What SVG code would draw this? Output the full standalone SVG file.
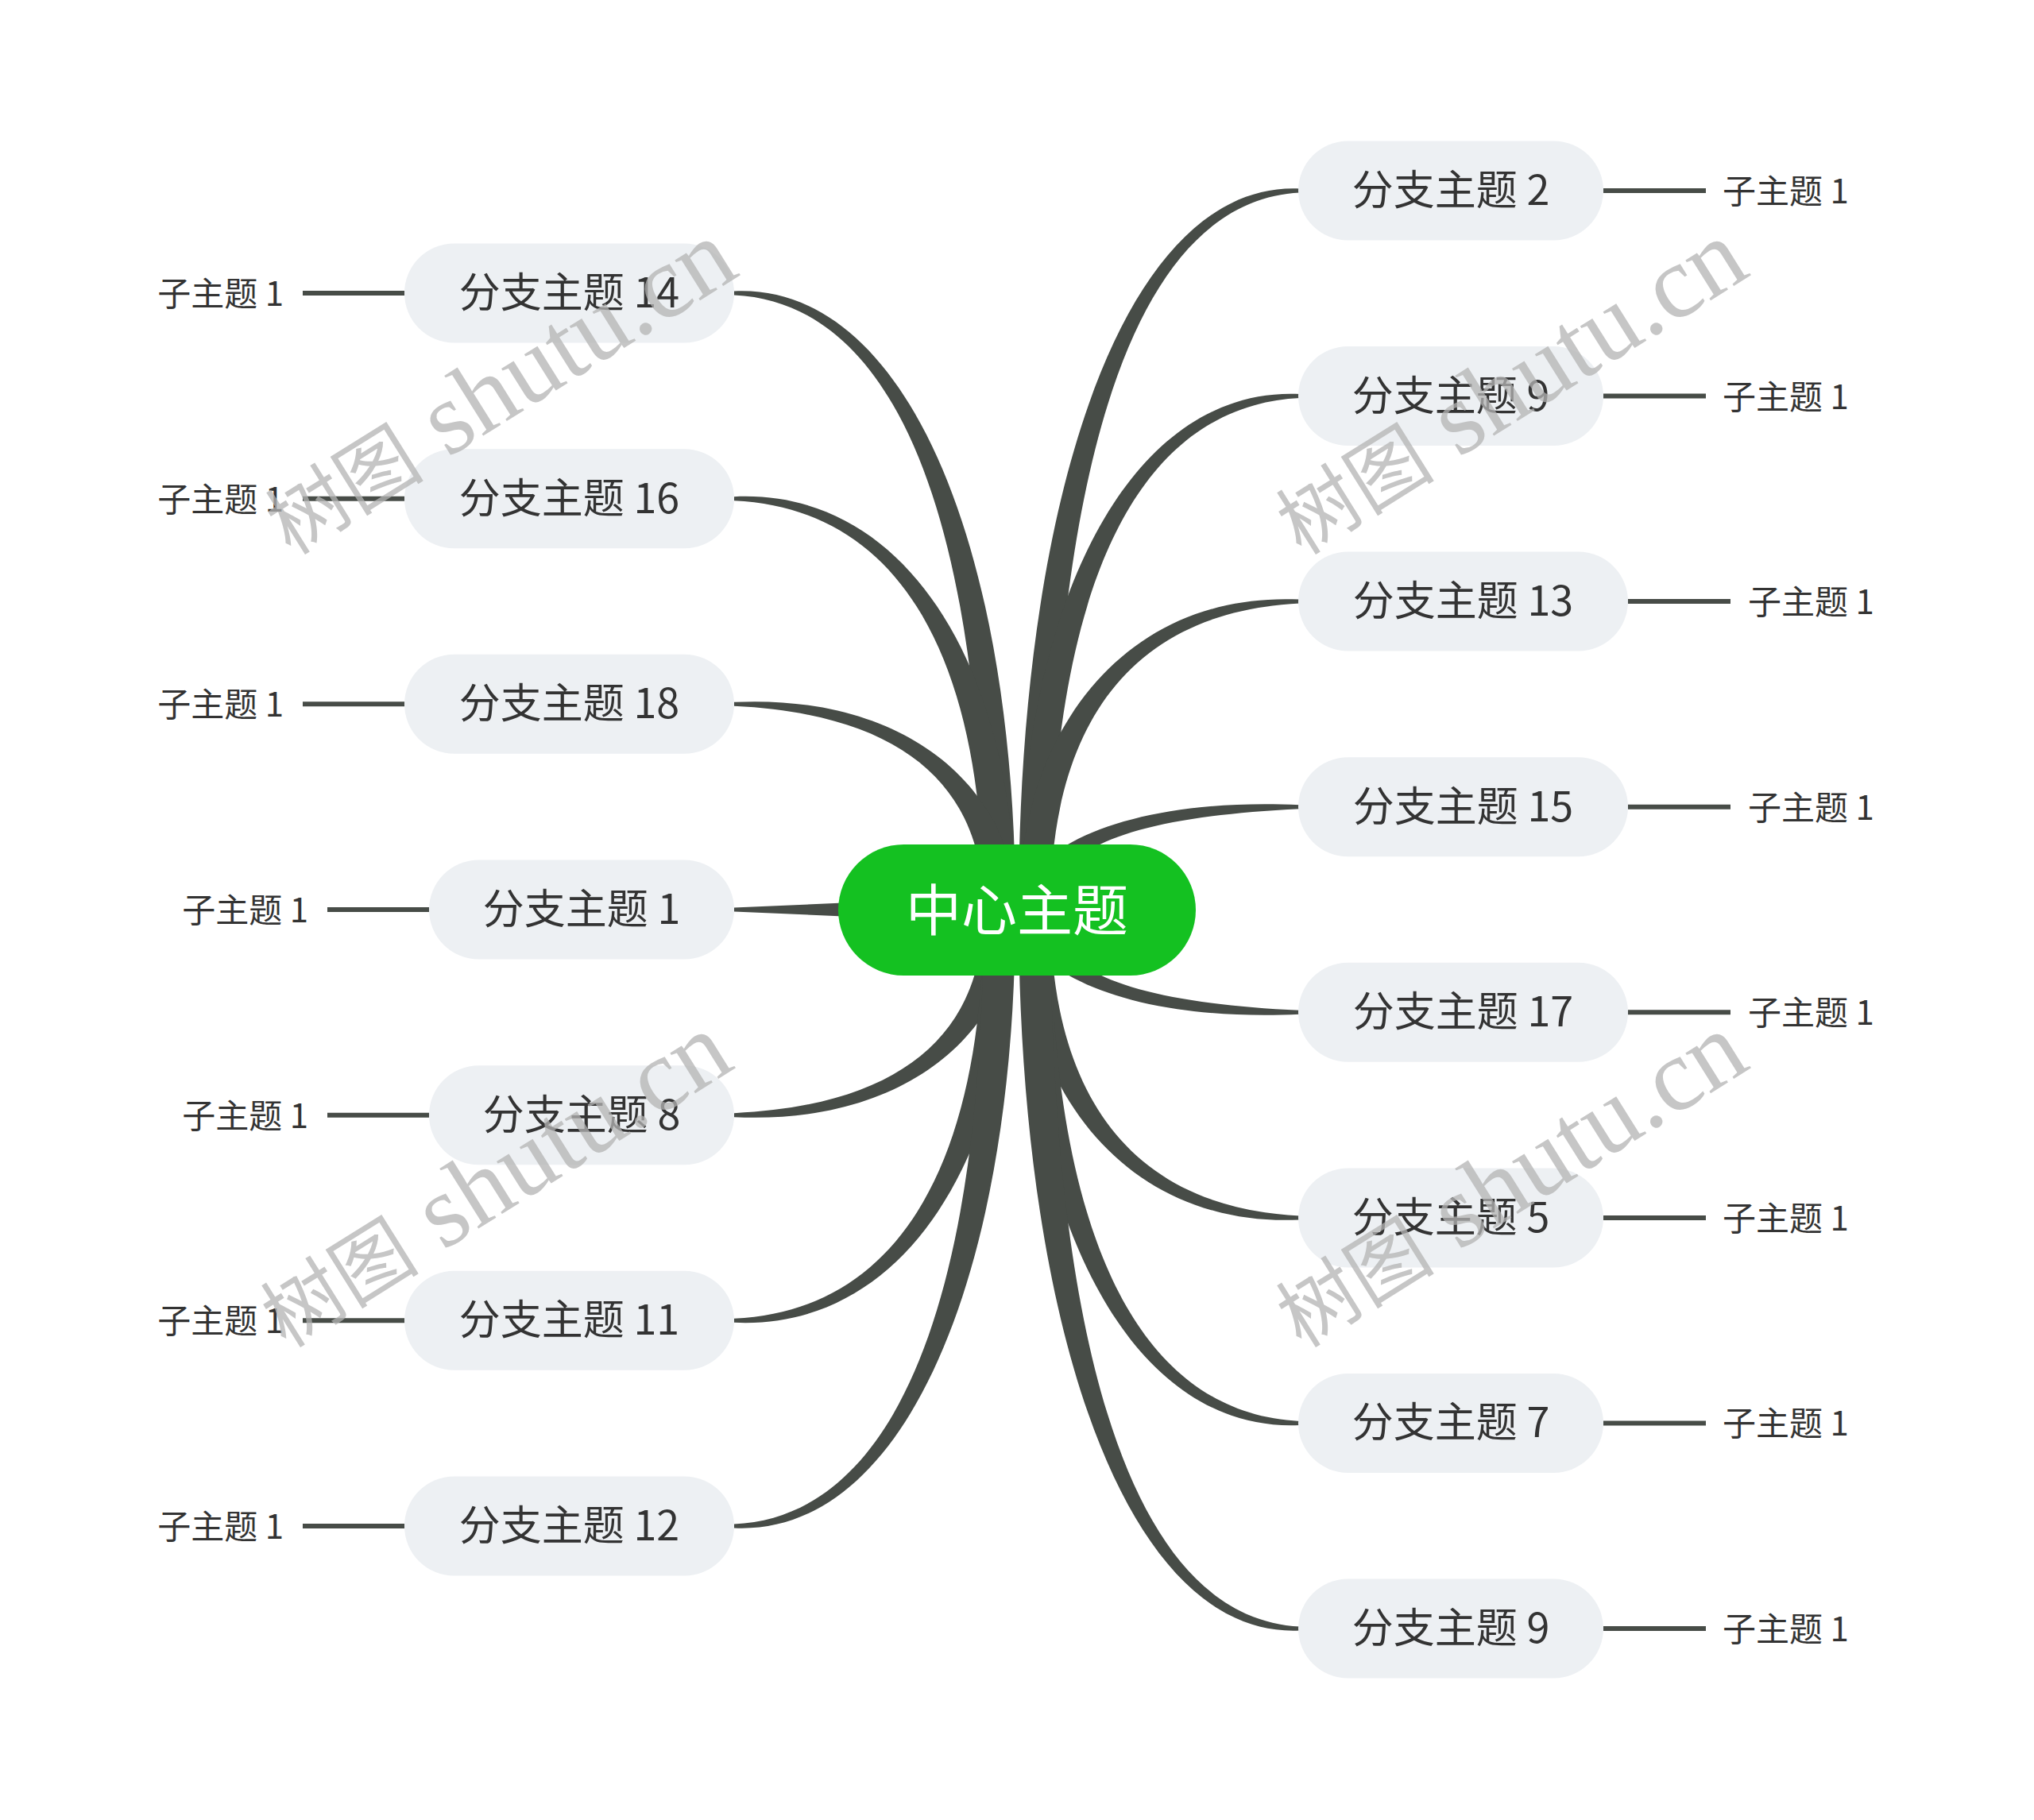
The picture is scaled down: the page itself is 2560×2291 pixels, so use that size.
<svg xmlns="http://www.w3.org/2000/svg" width="2560" height="2291" viewBox="0 0 2560 2291">
<defs>
<style>
.bg{fill:#FFFFFF}
.br{fill:#474C47}
.sub{stroke:#474C47;stroke-width:6;fill:none}
.node{fill:#EDF0F3}
.bt{font-family:"Noto Sans CJK SC","Noto Sans",sans-serif;font-size:52px;fill:#333333;text-anchor:middle}
.st{font-family:"Noto Sans CJK SC","Noto Sans",sans-serif;font-size:42px;fill:#333333}
.ct{font-family:"Noto Sans CJK SC","Noto Sans",sans-serif;font-size:70px;fill:#FFFFFF;text-anchor:middle}
.wm{font-family:"Liberation Serif","Noto Sans CJK SC",serif;font-size:100px;fill:#B4B4B4;opacity:0.75}
.wl{font-size:130px}
</style>
</defs>
<rect class="bg" x="0" y="0" width="2560" height="2291"/>
<g id="connectors">
<path class="br" d="M1278 1145 C1278 700.4 1145 356 924 366.5 L924 371.5 C1145 382 1238 700.4 1238 1145Z"/>
<path class="br" d="M1278 1145 C1278 848.6 1145 614.7 924 625.2 L924 630.2 C1145 640.7 1238 848.6 1238 1145Z"/>
<path class="br" d="M1278 1145 C1278 996.8 1145 873.3 924 883.8 L924 888.8 C1145 899.3 1238 996.8 1238 1145Z"/>
<path class="br" d="M1278 1127 L924 1142.5 L924 1147.5 L1278 1163Z"/>
<path class="br" d="M1278 1145 C1278 1293.2 1145 1416.7 924 1406.2 L924 1401.2 C1145 1390.7 1238 1293.2 1238 1145Z"/>
<path class="br" d="M1278 1145 C1278 1441.4 1145 1675.3 924 1664.8 L924 1659.8 C1145 1649.3 1238 1441.4 1238 1145Z"/>
<path class="br" d="M1278 1145 C1278 1589.6 1145 1934 924 1923.5 L924 1918.5 C1145 1908 1238 1589.6 1238 1145Z"/>
<path class="br" d="M1282 1145 C1282 626.4 1415 227 1636 237.5 L1636 242.5 C1415 253 1322 626.4 1322 1145Z"/>
<path class="br" d="M1282 1145 C1282 774.6 1415 485.6 1636 496.1 L1636 501.1 C1415 511.6 1322 774.6 1322 1145Z"/>
<path class="br" d="M1282 1145 C1282 922.7 1415 744.1 1636 754.6 L1636 759.6 C1415 770.1 1322 922.7 1322 1145Z"/>
<path class="br" d="M1282 1145 C1282 1070.9 1415 1002.7 1636 1013.2 L1636 1018.2 C1415 1028.7 1322 1070.9 1322 1145Z"/>
<path class="br" d="M1282 1145 C1282 1219.1 1415 1287.3 1636 1276.8 L1636 1271.8 C1415 1261.3 1322 1219.1 1322 1145Z"/>
<path class="br" d="M1282 1145 C1282 1367.3 1415 1545.9 1636 1535.4 L1636 1530.4 C1415 1519.9 1322 1367.3 1322 1145Z"/>
<path class="br" d="M1282 1145 C1282 1515.4 1415 1804.4 1636 1793.9 L1636 1788.9 C1415 1778.4 1322 1515.4 1322 1145Z"/>
<path class="br" d="M1282 1145 C1282 1663.6 1415 2063 1636 2052.5 L1636 2047.5 C1415 2037 1322 1663.6 1322 1145Z"/>
<line class="sub" x1="2018" y1="240" x2="2147" y2="240"/>
<line class="sub" x1="2018" y1="498.6" x2="2147" y2="498.6"/>
<line class="sub" x1="2049" y1="757.1" x2="2178" y2="757.1"/>
<line class="sub" x1="2049" y1="1015.7" x2="2178" y2="1015.7"/>
<line class="sub" x1="2049" y1="1274.3" x2="2178" y2="1274.3"/>
<line class="sub" x1="2018" y1="1532.9" x2="2147" y2="1532.9"/>
<line class="sub" x1="2018" y1="1791.4" x2="2147" y2="1791.4"/>
<line class="sub" x1="2018" y1="2050" x2="2147" y2="2050"/>
<line class="sub" x1="381" y1="369" x2="509" y2="369"/>
<line class="sub" x1="381" y1="627.7" x2="509" y2="627.7"/>
<line class="sub" x1="381" y1="886.3" x2="509" y2="886.3"/>
<line class="sub" x1="412" y1="1145" x2="540" y2="1145"/>
<line class="sub" x1="412" y1="1403.7" x2="540" y2="1403.7"/>
<line class="sub" x1="381" y1="1662.3" x2="509" y2="1662.3"/>
<line class="sub" x1="381" y1="1921" x2="509" y2="1921"/>
</g>
<g id="center">
<rect x="1055" y="1063" width="450" height="165" rx="82.5" fill="#14C121"/>
<text class="ct" x="1280" y="1172">中心主题</text>
</g>
<g id="b14"><rect class="node" x="509" y="306.5" width="415" height="125" rx="62.5"/><text class="bt" x="716.5" y="387">分支主题 14</text></g>
<g id="b16"><rect class="node" x="509" y="565.2" width="415" height="125" rx="62.5"/><text class="bt" x="716.5" y="645.7">分支主题 16</text></g>
<g id="b18"><rect class="node" x="509" y="823.8" width="415" height="125" rx="62.5"/><text class="bt" x="716.5" y="904.3">分支主题 18</text></g>
<g id="b1"><rect class="node" x="540" y="1082.5" width="384" height="125" rx="62.5"/><text class="bt" x="732" y="1163">分支主题 1</text></g>
<g id="b8"><rect class="node" x="540" y="1341.2" width="384" height="125" rx="62.5"/><text class="bt" x="732" y="1421.7">分支主题 8</text></g>
<g id="b11"><rect class="node" x="509" y="1599.8" width="415" height="125" rx="62.5"/><text class="bt" x="716.5" y="1680.3">分支主题 11</text></g>
<g id="b12"><rect class="node" x="509" y="1858.5" width="415" height="125" rx="62.5"/><text class="bt" x="716.5" y="1939">分支主题 12</text></g>
<g id="b2"><rect class="node" x="1634" y="177.5" width="384" height="125" rx="62.5"/><text class="bt" x="1826" y="258">分支主题 2</text></g>
<g id="b9a"><rect class="node" x="1634" y="436.1" width="384" height="125" rx="62.5"/><text class="bt" x="1826" y="516.6">分支主题 9</text></g>
<g id="b13"><rect class="node" x="1634" y="694.6" width="415" height="125" rx="62.5"/><text class="bt" x="1841.5" y="775.1">分支主题 13</text></g>
<g id="b15"><rect class="node" x="1634" y="953.2" width="415" height="125" rx="62.5"/><text class="bt" x="1841.5" y="1033.7">分支主题 15</text></g>
<g id="b17"><rect class="node" x="1634" y="1211.8" width="415" height="125" rx="62.5"/><text class="bt" x="1841.5" y="1292.3">分支主题 17</text></g>
<g id="b5"><rect class="node" x="1634" y="1470.4" width="384" height="125" rx="62.5"/><text class="bt" x="1826" y="1550.9">分支主题 5</text></g>
<g id="b7"><rect class="node" x="1634" y="1728.9" width="384" height="125" rx="62.5"/><text class="bt" x="1826" y="1809.4">分支主题 7</text></g>
<g id="b9b"><rect class="node" x="1634" y="1987.5" width="384" height="125" rx="62.5"/><text class="bt" x="1826" y="2068">分支主题 9</text></g>
<g id="s2"><text class="st" x="2168" y="256">子主题 1</text></g>
<g id="s9a"><text class="st" x="2168" y="514.6">子主题 1</text></g>
<g id="s13"><text class="st" x="2200" y="773.1">子主题 1</text></g>
<g id="s15"><text class="st" x="2200" y="1031.7">子主题 1</text></g>
<g id="s17"><text class="st" x="2200" y="1290.3">子主题 1</text></g>
<g id="s5"><text class="st" x="2168" y="1548.9">子主题 1</text></g>
<g id="s7"><text class="st" x="2168" y="1807.4">子主题 1</text></g>
<g id="s9b"><text class="st" x="2168" y="2066">子主题 1</text></g>
<g id="s14"><text class="st" x="357" y="385" text-anchor="end">子主题 1</text></g>
<g id="s16"><text class="st" x="357" y="643.7" text-anchor="end">子主题 1</text></g>
<g id="s18"><text class="st" x="357" y="902.3" text-anchor="end">子主题 1</text></g>
<g id="s1"><text class="st" x="388" y="1161" text-anchor="end">子主题 1</text></g>
<g id="s8"><text class="st" x="388" y="1419.7" text-anchor="end">子主题 1</text></g>
<g id="s11"><text class="st" x="357" y="1678.3" text-anchor="end">子主题 1</text></g>
<g id="s12"><text class="st" x="357" y="1937" text-anchor="end">子主题 1</text></g>
<g id="watermark">
<text class="wm" transform="translate(366 700) rotate(-32)">树图<tspan class="wl"> shutu.cn</tspan></text>
<text class="wm" transform="translate(1638 700) rotate(-32)">树图<tspan class="wl"> shutu.cn</tspan></text>
<text class="wm" transform="translate(360 1698) rotate(-32)">树图<tspan class="wl"> shutu.cn</tspan></text>
<text class="wm" transform="translate(1638 1698) rotate(-32)">树图<tspan class="wl"> shutu.cn</tspan></text>
</g>
</svg>
